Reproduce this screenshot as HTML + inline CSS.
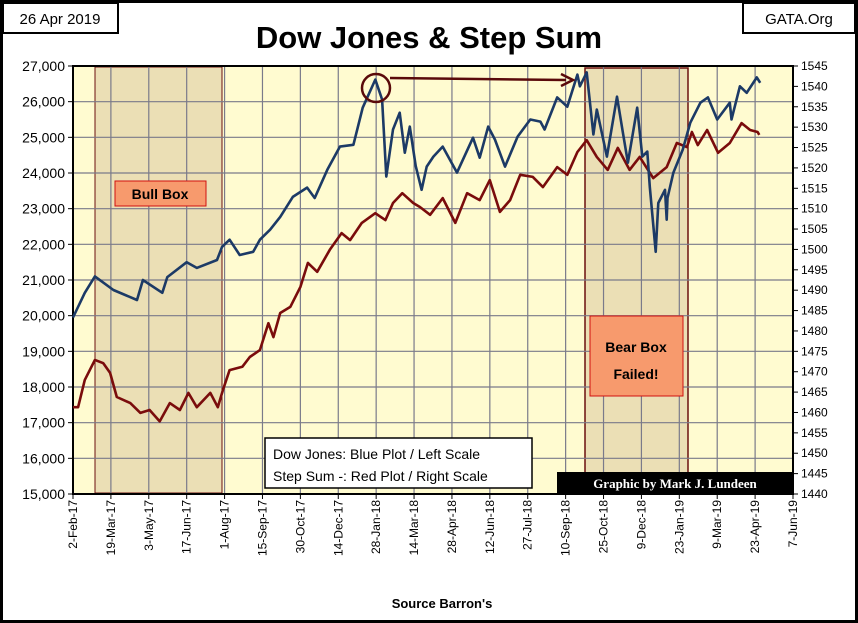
<!DOCTYPE html>
<html><head><meta charset="utf-8"><style>
body{margin:0;background:#fff;}
svg{display:block;font-family:"Liberation Sans",sans-serif;}
</style></head><body>
<svg id="c" width="858" height="623" xmlns="http://www.w3.org/2000/svg">
<rect x="1.5" y="1.5" width="855" height="620" fill="#fff" stroke="#000" stroke-width="3"/>
<rect x="3" y="3" width="115" height="30" fill="#fff" stroke="#000" stroke-width="2"/>
<text x="60" y="24" font-size="15" text-anchor="middle">26 Apr 2019</text>
<rect x="743" y="3" width="112" height="30" fill="#fff" stroke="#000" stroke-width="2"/>
<text x="799" y="24" font-size="15" text-anchor="middle">GATA.Org</text>
<text x="429" y="48" font-size="31" font-weight="bold" text-anchor="middle">Dow Jones &amp; Step Sum</text>
<rect x="73" y="66" width="720" height="428" fill="#fffbd0"/>
<g id="g"></g>
<text x="442" y="608" font-size="13" font-weight="bold" text-anchor="middle">Source Barron's</text>
</svg>
<script>
const dowDays=[0,14,26,48,76,83,106,112,135,147,171,177,186,198,214,222,234,246,261,278,287,302,317,333,344,359,367,372,380,388,394,400,407,414,420,428,439,456,475,483,493,501,513,528,543,555,560,575,587,599,602,610,618,622,634,646,653,659,670,676,682,685,692,695,703,705,706,713,724,733,745,754,765,780,782,792,800,812,816];
const dowVals=[19950,20640,21100,20720,20440,21000,20640,21080,21500,21340,21560,21930,22130,21700,21790,22130,22410,22770,23330,23590,23300,24090,24740,24790,25830,26620,26060,23900,25220,25690,24570,25300,24200,23530,24180,24460,24740,24010,24990,24430,25300,24940,24180,25020,25500,25440,25220,26120,25860,26760,26430,26820,25080,25780,24460,26140,25130,24290,25830,24460,24600,23610,21790,23160,23530,22690,23300,24010,24650,25410,25970,26120,25500,25970,25500,26430,26250,26680,26530];
const stepDays=[0,6,14,26,36,44,52,68,80,91,103,115,127,137,147,163,172,178,186,201,210,222,232,238,246,258,270,279,290,305,319,329,343,359,371,380,391,404,412,424,439,454,468,483,495,507,519,531,546,558,575,587,599,610,622,635,647,661,673,689,705,717,729,735,742,753,766,780,794,804,813,815];
const stepVals=[1461.3,1461.3,1468,1472.9,1472.1,1469.7,1463.8,1462.3,1459.9,1460.6,1457.8,1462.3,1460.6,1464.8,1461.3,1464.8,1461.3,1465.5,1470.4,1471.2,1473.6,1475.3,1481.9,1478.5,1484.4,1485.9,1490.8,1496.7,1494.5,1499.9,1504,1502.3,1506.5,1508.9,1507.2,1511.4,1513.8,1511.4,1510.4,1508.5,1512.6,1506.5,1513.8,1512.1,1517,1509.2,1512.1,1518.3,1517.8,1515.3,1520.2,1518.3,1523.9,1526.8,1522.7,1519.5,1524.9,1519.5,1522.7,1517.5,1520.2,1526.1,1525.1,1528.8,1525.6,1529.3,1523.7,1526.1,1531,1529.3,1528.8,1528.1];
const xLabels=["2-Feb-17","19-Mar-17","3-May-17","17-Jun-17","1-Aug-17","15-Sep-17","30-Oct-17","14-Dec-17","28-Jan-18","14-Mar-18","28-Apr-18","12-Jun-18","27-Jul-18","10-Sep-18","25-Oct-18","9-Dec-18","23-Jan-19","9-Mar-19","23-Apr-19","7-Jun-19"];
const leftTicks=[15000,16000,17000,18000,19000,20000,21000,22000,23000,24000,25000,26000,27000];
const rightTicks=[1440,1445,1450,1455,1460,1465,1470,1475,1480,1485,1490,1495,1500,1505,1510,1515,1520,1525,1530,1535,1540,1545];
const PX0=73,PX1=793,PY0=66,PY1=494;
const xS=d=>PX0+d/855*(PX1-PX0);
const yL=v=>PY1-(v-15000)/12000*(PY1-PY0);
const yR=v=>PY1-(v-1440)/105*(PY1-PY0);
const g=document.getElementById('g');
const NS='http://www.w3.org/2000/svg';
function mk(t,a,txt){const e=document.createElementNS(NS,t);for(const k in a)e.setAttribute(k,a[k]);if(txt!==undefined)e.textContent=txt;g.appendChild(e);return e;}
let e;
e=mk('rect',{x:95,y:67,width:127,height:426,fill:'#ebdfb5',stroke:'#6b0f0f','stroke-width':1});


e=mk('rect',{x:585,y:68,width:103,height:425,fill:'#ebdfb5',stroke:'#6b0f0f','stroke-width':1.5});


for(let i=0;i<xLabels.length;i++){const x=xS(i*45);
 e=mk('line',{x1:x,y1:PY0,x2:x,y2:PY1,stroke:'#7a7a8a','stroke-width':1.2});
 
 
 e=mk('line',{x1:x,y1:PY1,x2:x,y2:PY1+5,stroke:'#000'});
 
 
 e=mk('text',{x:0,y:0,'font-size':12,'text-anchor':'end',transform:`translate(${x+4},${PY1+6}) rotate(-90)`},xLabels[i]);
 
 
}
for(const v of leftTicks){const y=yL(v);
 e=mk('line',{x1:PX0,y1:y,x2:PX1,y2:y,stroke:'#7a7a8a','stroke-width':1.2});
 
 
 e=mk('line',{x1:PX0-5,y1:y,x2:PX0,y2:y,stroke:'#000'});
 
 
 e=mk('text',{x:PX0-8,y:y+5,'font-size':14,'text-anchor':'end'},v.toLocaleString('en-US'));
 
 
}
for(const v of rightTicks){const y=yR(v);
 e=mk('line',{x1:PX1,y1:y,x2:PX1+5,y2:y,stroke:'#000'});
 
 
 e=mk('text',{x:PX1+8,y:y+4,'font-size':12},String(v));
 
 
}
e=mk('rect',{x:PX0,y:PY0,width:PX1-PX0,height:PY1-PY0,fill:'none',stroke:'#000','stroke-width':2});


const n=Math.min(stepDays.length,stepVals.length);
let dR='';for(let i=0;i<n;i++)dR+=(i?'L':'M')+xS(stepDays[i]).toFixed(1)+','+yR(stepVals[i]).toFixed(1);
e=mk('path',{d:dR,fill:'none',stroke:'#7a0c0c','stroke-width':2.6,'stroke-linejoin':'round'});


const m=Math.min(dowDays.length,dowVals.length);
let dB='';for(let i=0;i<m;i++)dB+=(i?'L':'M')+xS(dowDays[i]).toFixed(1)+','+yL(dowVals[i]).toFixed(1);
e=mk('path',{d:dB,fill:'none',stroke:'#1c3a66','stroke-width':2.6,'stroke-linejoin':'round'});


e=mk('circle',{cx:376,cy:88,r:14,fill:'none',stroke:'#5a0a0a','stroke-width':2.5});


e=mk('line',{x1:390,y1:78,x2:566,y2:80,stroke:'#5a0a0a','stroke-width':2.5});


e=mk('path',{d:'M561,74 L573,80 L561,86',fill:'none',stroke:'#5a0a0a','stroke-width':2.5});


e=mk('rect',{x:115,y:181,width:91,height:25,fill:'#f79a6d',stroke:'#d01010','stroke-width':1});


e=mk('text',{x:160,y:199,'font-size':14,'font-weight':'bold','text-anchor':'middle'},'Bull Box');


e=mk('rect',{x:590,y:316,width:93,height:80,fill:'#f79a6d',stroke:'#d01010','stroke-width':1});


e=mk('text',{x:636,y:352,'font-size':14,'font-weight':'bold','text-anchor':'middle'},'Bear Box');


e=mk('text',{x:636,y:379,'font-size':14,'font-weight':'bold','text-anchor':'middle'},'Failed!');


e=mk('rect',{x:265,y:438,width:267,height:50,fill:'#fff',stroke:'#000','stroke-width':1.5});


e=mk('text',{x:273,y:459,'font-size':14},'Dow Jones: Blue Plot / Left Scale');


e=mk('text',{x:273,y:481,'font-size':14},'Step Sum -: Red Plot / Right Scale');


e=mk('rect',{x:557,y:472,width:236,height:22,fill:'#000'});


e=mk('text',{x:675,y:488,'font-size':13,'font-weight':'bold','font-family':'Liberation Serif,serif',fill:'#fff','text-anchor':'middle'},'Graphic by Mark J. Lundeen');


</script>
</body></html>
